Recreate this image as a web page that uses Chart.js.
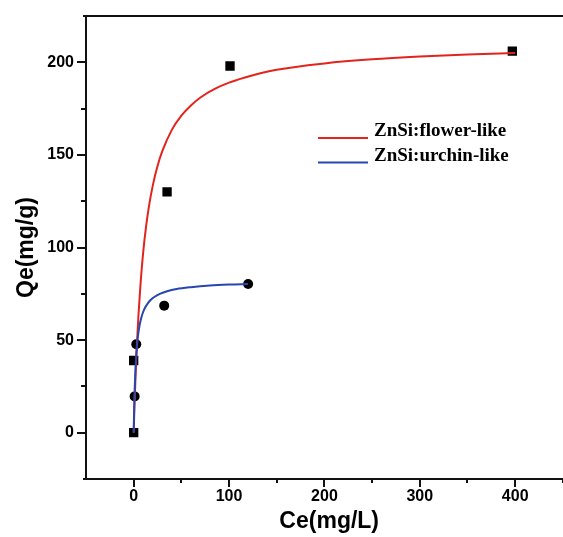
<!DOCTYPE html>
<html><head><meta charset="utf-8">
<script src="https://cdn.jsdelivr.net/npm/chart.js@4/dist/chart.umd.min.js"></script>
<style>
html,body{margin:0;padding:0;overflow:hidden;background:#fff;width:563px;height:537px}
#wrap{width:579px;height:537px}
canvas{display:block}
</style></head>
<body><div id="wrap"><canvas id="c" width="579" height="537"></canvas></div>
<script>
const flowerCe = [0, 0, 35, 101, 397];
const flowerQe = [0, 39, 130, 198, 206];
const urchinCe = [1, 2.7, 32, 120];
const urchinQe = [19.6, 47.8, 68.6, 80.3];
// fitted curves
const flowerFitCe = [0, 0.5, 1, 2, 3, 4, 5, 7, 10, 13, 16, 20, 25, 30, 40, 50, 60, 70, 85, 100, 125, 150, 200, 250, 300, 350, 400];
const flowerFitQe = [0, 8.7, 16.7, 31, 43.3, 54, 63.4, 79, 97.6, 111.4, 122.2, 133.4, 144, 152, 163.5, 171.2, 176.7, 181, 185.6, 189, 193, 196, 199.4, 201.6, 203.1, 204.2, 205];
const urchinFitCe = [0, 0.5, 1, 2, 3, 4, 5, 6.5, 8, 10, 12, 15, 18, 22, 28, 35, 45, 60, 80, 100, 120];
const urchinFitQe = [0, 13.4, 23, 36, 44.2, 50, 54.2, 58.8, 62.1, 65.3, 67.6, 70, 71.8, 73.4, 75.1, 76.4, 77.6, 78.6, 79.5, 80, 80.3];
const seriesLabels = ['ZnSi:flower-like', 'ZnSi:urchin-like'];
const xMajorTicks = [0, 100, 200, 300, 400];
const xMinorTicks = [50, 150, 250, 350, 450];
const yMajorTicks = [0, 50, 100, 150, 200];
const yMinorTicks = [25, 75, 125, 175];

const RED = '#e3241d';
const BLUE = '#2646b0';
const toPts = (xs, ys) => xs.map((x, i) => ({x: x, y: ys[i]}));

const axisDeco = {
  id: 'axisDeco',
  afterDraw(chart) {
    const ctx = chart.ctx, a = chart.chartArea;
    const xs = chart.scales.x, ys = chart.scales.y;
    ctx.save();
    ctx.strokeStyle = '#111';
    ctx.lineWidth = 2;
    ctx.beginPath(); ctx.moveTo(a.left - 3, a.top); ctx.lineTo(a.right, a.top); ctx.stroke();
    ctx.beginPath(); ctx.moveTo(a.left - 3, a.bottom); ctx.lineTo(a.left, a.bottom); ctx.stroke();
    ctx.lineWidth = 2;
    const xt = (v, len) => { const p = Math.round(xs.getPixelForValue(v)); ctx.beginPath(); ctx.moveTo(p, a.bottom); ctx.lineTo(p, a.bottom + len); ctx.stroke(); };
    const yt = (v, len) => { const p = Math.round(ys.getPixelForValue(v)); ctx.beginPath(); ctx.moveTo(a.left, p); ctx.lineTo(a.left - len, p); ctx.stroke(); };
    xMajorTicks.forEach(v => xt(v, 8));
    xMinorTicks.forEach(v => xt(v, 4));
    yMajorTicks.forEach(v => yt(v, 9));
    yMinorTicks.forEach(v => yt(v, 5));
    ctx.restore();
  }
};

const innerLegend = {
  id: 'innerLegend',
  afterDraw(chart, args, opts) {
    const ctx = chart.ctx;
    ctx.save();
    ctx.font = 'bold 19px "Liberation Serif", "Times New Roman", serif';
    ctx.textBaseline = 'alphabetic';
    ctx.fillStyle = '#000';
    const items = chart.data.datasets.filter(ds => ds.legendRank !== undefined).sort((p, q) => p.legendRank - q.legendRank);
    items.forEach((ds, i) => {
      const lineY = opts.lineY + i * opts.gap;
      const textY = opts.textY + i * opts.gap;
      ctx.strokeStyle = ds.borderColor;
      ctx.lineWidth = 2;
      ctx.beginPath(); ctx.moveTo(opts.x0, lineY); ctx.lineTo(opts.x1, lineY); ctx.stroke();
      ctx.fillText(ds.label, opts.textX, textY);
    });
    ctx.restore();
  }
};

const tickFont = {family: '"Liberation Sans", Arial, sans-serif', size: 16, weight: 'bold'};
const titleFont = {family: '"Liberation Sans", Arial, sans-serif', size: 23, weight: 'bold'};

new Chart(document.getElementById('c'), {
  type: 'scatter',
  data: {
    datasets: [
      {label: seriesLabels[1], legendRank: 1, data: toPts(urchinFitCe, urchinFitQe), showLine: true, borderColor: BLUE, borderWidth: 2, pointRadius: 0, tension: 0.3, cubicInterpolationMode: 'monotone', order: 0},
      {label: seriesLabels[0], legendRank: 0, data: toPts(flowerFitCe, flowerFitQe), showLine: true, borderColor: RED, borderWidth: 2, pointRadius: 0, tension: 0.3, cubicInterpolationMode: 'monotone', order: 1},
      {label: 'flower data', data: toPts(flowerCe, flowerQe), pointStyle: 'rect', pointRadius: 6.6, backgroundColor: '#000', borderColor: '#000', borderWidth: 0, order: 2},
      {label: 'urchin data', data: toPts(urchinCe, urchinQe), pointStyle: 'circle', pointRadius: 5, backgroundColor: '#000', borderColor: '#000', borderWidth: 0, order: 3}
    ]
  },
  options: {
    responsive: false,
    animation: false,
    devicePixelRatio: 1,
    layout: {padding: {top: 16, left: 0, right: 0, bottom: 0}},
    plugins: {
      legend: {display: false},
      tooltip: {enabled: false},
      innerLegend: {x0: 318, x1: 368, textX: 374, lineY: 138, textY: 136, gap: 24.5}
    },
    scales: {
      x: {
        type: 'linear', min: -50, max: 460,
        afterBuildTicks: s => { s.ticks = xMajorTicks.map(v => ({value: v})); },
        afterFit: s => { s.height = 58; },
        grid: {display: true, drawOnChartArea: false, drawTicks: true, tickLength: 8, color: 'rgba(0,0,0,0)'},
        border: {display: true, color: '#111', width: 2},
        ticks: {font: tickFont, color: '#000', padding: 0, maxRotation: 0, callback: v => String(v)},
        title: {display: true, text: 'Ce(mg/L)', font: titleFont, color: '#000', padding: {top: 0, bottom: 2}}
      },
      y: {
        type: 'linear', min: -25, max: 225,
        afterBuildTicks: s => { s.ticks = yMajorTicks.map(v => ({value: v})); },
        afterFit: s => { s.width = 86; },
        grid: {display: true, drawOnChartArea: false, drawTicks: true, tickLength: 8, color: 'rgba(0,0,0,0)'},
        border: {display: true, color: '#111', width: 2},
        ticks: {font: tickFont, color: '#000', padding: 4, callback: v => String(v)},
        title: {display: true, text: 'Qe(mg/g)', font: titleFont, color: '#000', padding: {top: 13, bottom: 0}}
      }
    }
  },
  plugins: [axisDeco, innerLegend]
});
</script>
</body></html>
